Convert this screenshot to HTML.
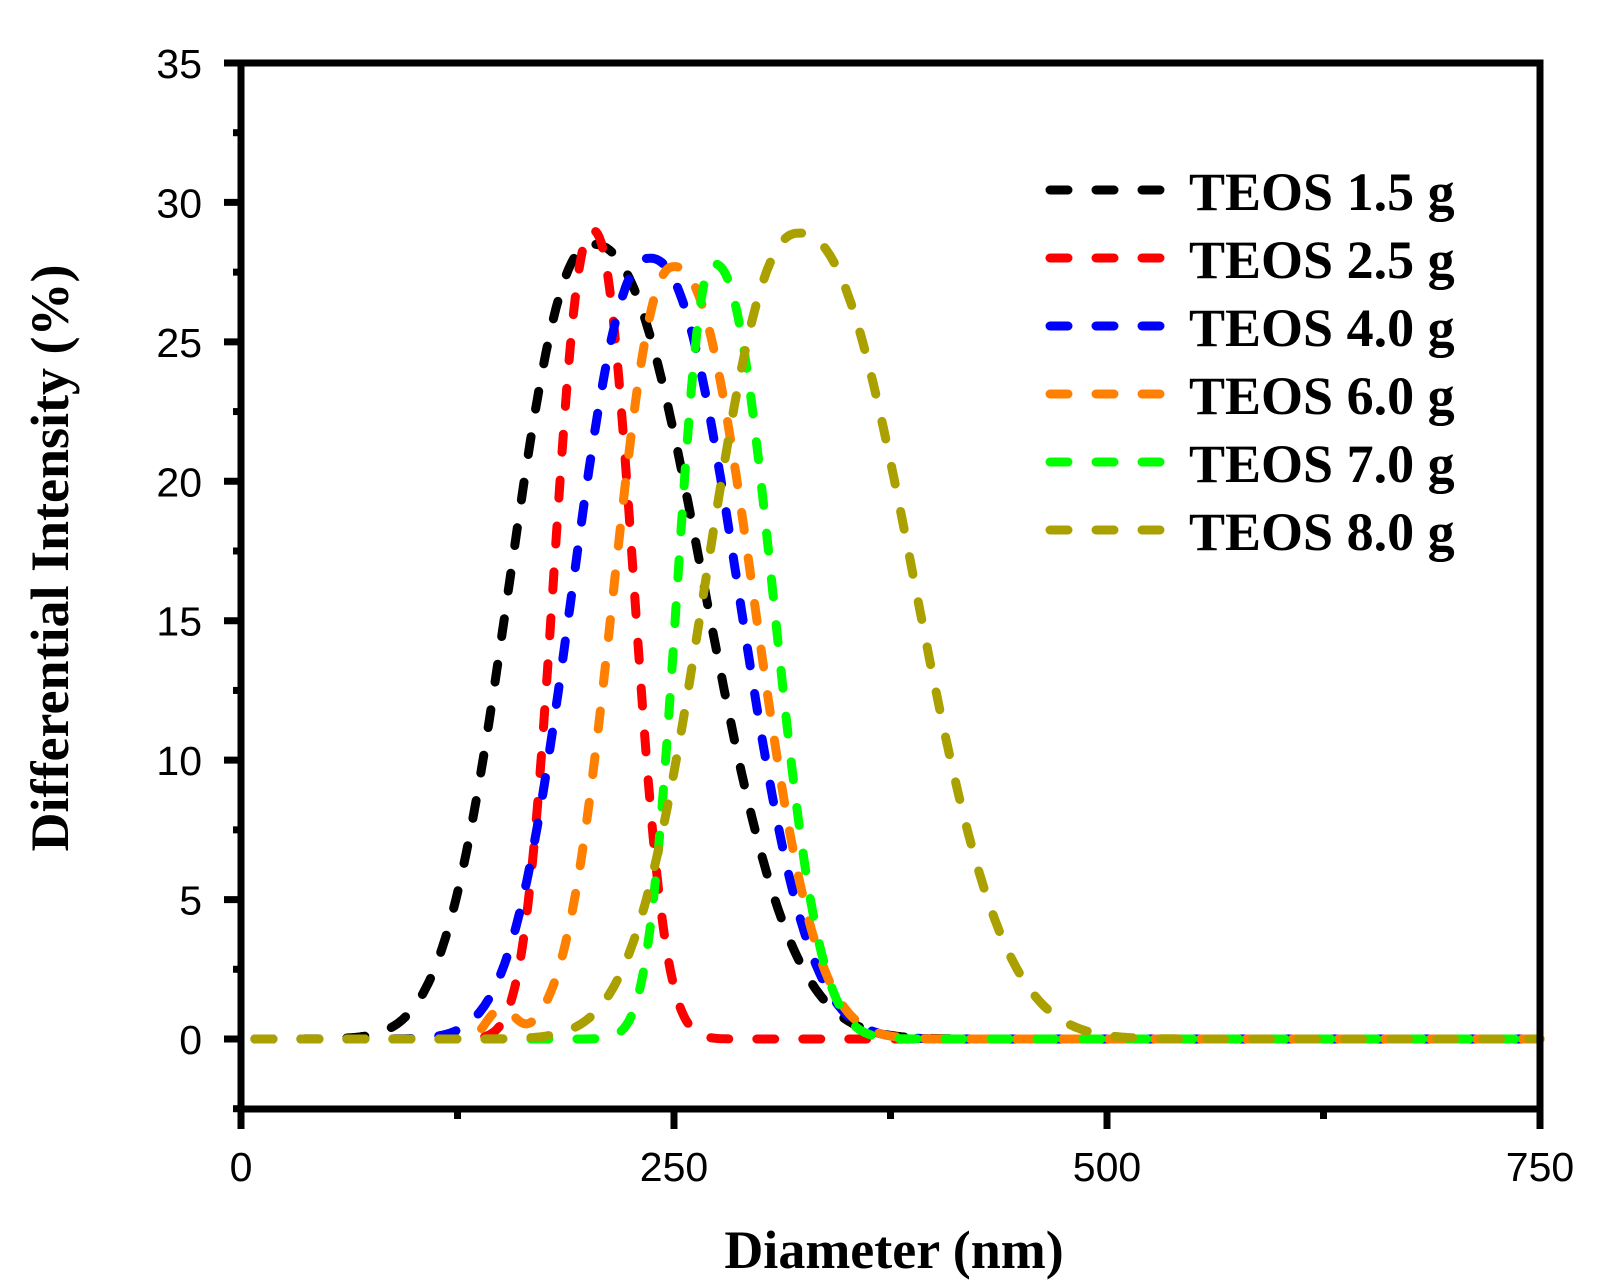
<!DOCTYPE html>
<html><head><meta charset="utf-8"><style>
html,body{margin:0;padding:0;background:#fff;}
svg{display:block;}
</style></head><body>
<svg id="s" width="1613" height="1287" viewBox="0 0 1613 1287" xmlns="http://www.w3.org/2000/svg">
<g id="curves" fill="none" stroke-width="9" stroke-linecap="round" stroke-dasharray="18 28"></g>
<g stroke="#000" stroke-width="7" fill="none">
<rect x="241" y="63" width="1299" height="1046"/>
</g>
<g id="ticks" stroke="#000" stroke-width="7"></g>
<g font-family="Liberation Sans, Arial, sans-serif" font-size="41" fill="#000" id="labels"></g>
<g font-family="Liberation Serif, Times New Roman, serif" font-weight="bold" font-size="54" fill="#000">
<text x="894" y="1268" text-anchor="middle">Diameter (nm)</text>
<text transform="translate(68,558) rotate(-90)" text-anchor="middle">Differential Intensity (%)</text>
</g>
<g id="legend" font-family="Liberation Serif, Times New Roman, serif" font-weight="bold" font-size="54" fill="#000"></g>
</svg>
<script>
var X0=241,KX=(1540-241)/750,Y0=1039,KY=(1039-63)/35;
function px(v){return X0+v*KX;} function py(v){return Y0-v*KY;}
var NS="http://www.w3.org/2000/svg";
function el(p,t,a,txt){var e=document.createElementNS(NS,t);for(var k in a)e.setAttribute(k,a[k]);if(txt)e.textContent=txt;document.getElementById(p).appendChild(e);return e;}
var P=2.3,F=1.02;
var series=[
 {c:"#000000",g:[[203,28.5,45,60]]},
 {c:"#ff0000",g:[[203,29,21,22]]},
 {c:"#0000ff",g:[[236,28,42,48]]},
 {c:"#ff8000",g:[[250,27.7,33,43],[150,1.0,8,8]]},
 {c:"#00ff00",g:[[273,27.8,20,32]]},
 {c:"#aaa000",g:[[322,28.9,50,62]]}
];
series.forEach(function(s){
 var d="";
 for(var x=8;x<=750;x+=1){
  var y=0;
  s.g.forEach(function(g){var sg=(x<g[0]?g[2]:g[3])*F;y+=g[1]*Math.exp(-0.5*Math.pow(Math.abs((x-g[0])/sg),P));});
  d+=(x==8?"M":"L")+px(x).toFixed(1)+","+py(y).toFixed(1);
 }
 el("curves","path",{d:d,stroke:s.c});
});
for(var v=-2.5;v<=35.01;v+=2.5){
 var maj=Math.abs(v%5)<0.01;
 el("ticks","line",{x1:X0,x2:X0-(maj?17:8),y1:py(v),y2:py(v)});
 if(maj) el("labels","text",{x:202,y:py(v)+15,"text-anchor":"end"},String(v));
}
for(var v=0;v<=750;v+=125){
 var maj=v%250==0;
 el("ticks","line",{x1:px(v),x2:px(v),y1:1109,y2:1109+(maj?20:10)});
 if(maj) el("labels","text",{x:px(v),y:1181,"text-anchor":"middle"},String(v));
}
var names=["TEOS 1.5 g","TEOS 2.5 g","TEOS 4.0 g","TEOS 6.0 g","TEOS 7.0 g","TEOS 8.0 g"];
names.forEach(function(n,i){
 var y=190+68*i;
 el("legend","path",{d:"M1050,"+y+"H1162",stroke:series[i].c,"stroke-width":9,"stroke-linecap":"round","stroke-dasharray":"18 28",fill:"none"});
 el("legend","text",{x:1189,y:y+20},n);
});
</script>
</body></html>
